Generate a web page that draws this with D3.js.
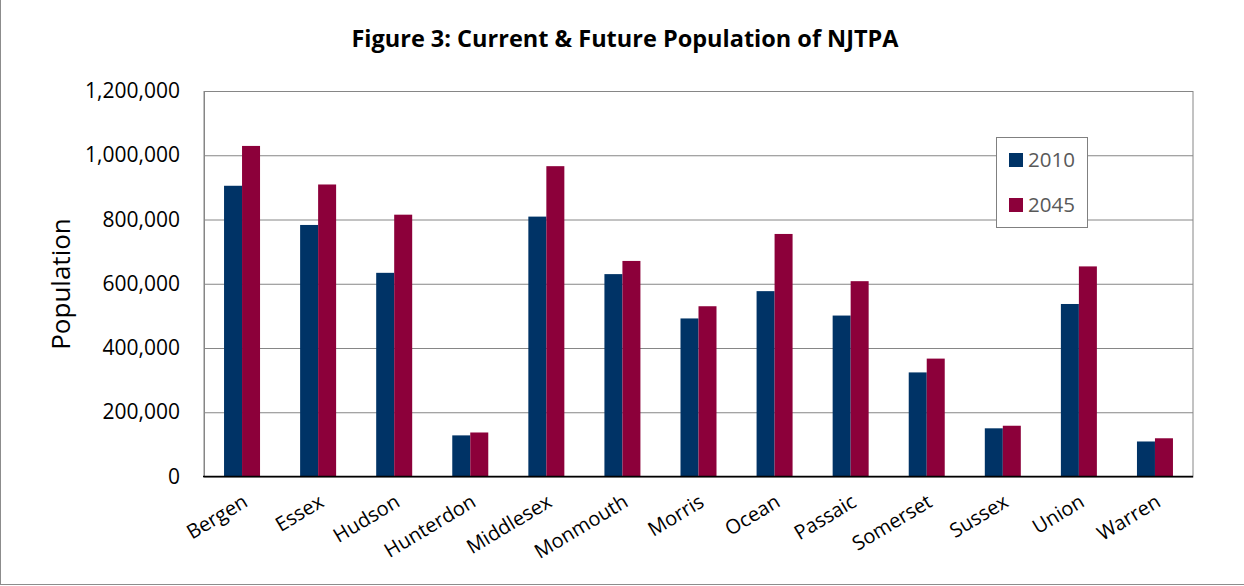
<!DOCTYPE html>
<html>
<head>
<meta charset="utf-8">
<script src="https://cdn.jsdelivr.net/npm/d3@7"></script>
<style>
  body { margin: 0; background: #fff; }
  text { font-family: "Open Sans", sans-serif; }
</style>
</head>
<body>
<svg id="chart" width="1244" height="586"></svg>
<script>
// data
var counties = ["Bergen", "Essex", "Hudson", "Hunterdon", "Middlesex", "Monmouth", "Morris",
	"Ocean", "Passaic", "Somerset", "Sussex", "Union", "Warren"];
var pop2010 = [905000, 783000, 634000, 128000, 809000, 630000, 492000, 577000, 501000, 324000, 150000, 537000, 109000];
var pop2045 = [1029000, 909000, 815000, 137000, 966000, 671000, 530000, 755000, 608000, 367000, 158000, 654000, 119000];
var seriesNames = ["2010", "2045"];
var seriesColors = ["#003366", "#8C003A"];
var yTicks = [0, 200000, 400000, 600000, 800000, 1000000, 1200000];

function draw(){
	var svg = d3.select("#chart");
	var left = 204, right = 1193, top = 91, bottom = 476.5;

	// outer frame
	svg.append("rect")
		.attr("x", 0.5).attr("y", -2)
		.attr("width", 1260).attr("height", 586.5)
		.attr("fill", "none").attr("stroke", "#8c8c8c").attr("stroke-width", 1);

	var x = d3.scaleBand().domain(counties).range([left, right]).padding(0);
	var bw = x.bandwidth();
	var xs = d3.scaleBand().domain(seriesNames).range([bw / 2 - 18, bw / 2 + 18]);
	var y = d3.scaleLinear().domain([0, 1200000]).range([bottom, top]);

	// plot frame + gridlines
	svg.append("rect")
		.attr("x", left).attr("y", top + 0.5)
		.attr("width", right - left).attr("height", bottom - top)
		.attr("fill", "none").attr("stroke", "#868686");

	var yAxis = d3.axisLeft(y).tickValues(yTicks).tickSize(-(right - left)).tickPadding(24)
		.tickFormat(d3.format(","));
	var gy = svg.append("g").attr("transform", "translate(" + left + ",0)").call(yAxis);
	gy.select(".domain").attr("stroke", "#868686");
	gy.selectAll(".tick line").attr("stroke", "#868686");
	gy.selectAll(".tick text")
		.attr("font-size", 21).attr("fill", "#000")
		.style("font-family", "'Open Sans', sans-serif");

	// bars
	var rows = counties.map(function(c, i){
		return { county: c, values: [pop2010[i], pop2045[i]] };
	});
	var groups = svg.selectAll("g.county")
		.data(rows)
		.enter()
		.append("g")
			.attr("class", "county")
			.attr("transform", function(d){ return "translate(" + x(d.county) + ",0)"; });
	groups.selectAll("rect")
		.data(function(d){
			return d.values.map(function(v, k){ return { name: seriesNames[k], v: v, k: k }; });
		})
		.enter()
		.append("rect")
		.attr("x", function(d){ return xs(d.name); })
		.attr("width", xs.bandwidth())
		.attr("y", function(d){ return y(d.v); })
		.attr("height", function(d){ return y(0) - y(d.v); })
		.attr("fill", function(d){ return seriesColors[d.k]; });

	// zero line
	svg.append("line")
		.attr("x1", left - 1).attr("x2", right)
		.attr("y1", bottom).attr("y2", bottom)
		.attr("stroke", "#000").attr("stroke-width", 1.5);

	// x labels
	var gx = svg.append("g").call(d3.axisBottom(x).tickSize(0))
		.attr("transform", "translate(0," + bottom + ")");
	gx.select(".domain").remove();
	gx.selectAll(".tick text")
		.attr("font-size", 20).attr("fill", "#000")
		.style("font-family", "'Open Sans', sans-serif")
		.attr("text-anchor", "end")
		.attr("y", 0).attr("dy", 0)
		.attr("transform", "translate(7,29) rotate(-31)");

	// y title
	svg.append("text")
		.attr("transform", "translate(70,284) rotate(-90)")
		.attr("text-anchor", "middle")
		.attr("font-size", 26)
		.text("Population");

	// title
	svg.append("text")
		.attr("x", 625).attr("y", 47)
		.attr("text-anchor", "middle")
		.attr("font-size", 23.5).attr("font-weight", "bold")
		.text("Figure 3: Current & Future Population of NJTPA");

	// legend
	var lg = svg.append("g").attr("transform", "translate(996,137)");
	lg.append("rect")
		.attr("x", 0.5).attr("y", 0.5).attr("width", 91).attr("height", 90)
		.attr("fill", "#fff").attr("stroke", "#808080");
	var items = lg.selectAll("g.item")
		.data(seriesNames)
		.enter()
		.append("g")
			.attr("class", "item")
			.attr("transform", function(d, i){ return "translate(13," + (16 + i * 45) + ")"; });
	items.append("rect")
		.attr("width", 14).attr("height", 14)
		.attr("fill", function(d, i){ return seriesColors[i]; });
	items.append("text")
		.attr("x", 19).attr("y", 14)
		.attr("font-size", 20.5).attr("fill", "#595959")
		.text(function(d){ return d; });
}

draw();
</script>
</body>
</html>
